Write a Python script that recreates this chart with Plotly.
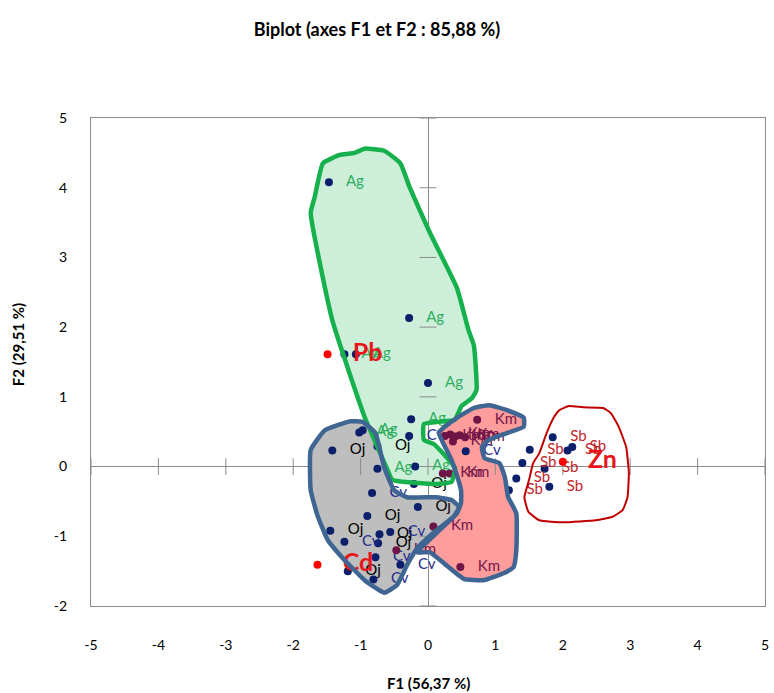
import plotly.graph_objects as go

# ---------------- data ----------------
ag_x = [-1.47, -0.28, -1.24, -1.07, 0.00, -0.25, -1.02, -0.97, -0.75, -0.19]
ag_y = [4.08, 2.13, 1.61, 1.61, 1.20, 0.68, 0.49, 0.52, -0.03, 0.00]

oj_x = [-1.42, -0.75, -0.90, -1.45, -0.72, -0.74, -0.15, -0.21, -1.19]
oj_y = [0.23, 0.29, -0.71, -0.92, -0.97, -1.10, -0.58, -0.25, -1.50]

cv_x = [-0.83, -1.24, -0.56, -0.78, -0.41, -0.81, -0.28, 0.56]
cv_y = [-0.38, -1.08, -0.94, -1.30, -1.41, -1.62, 0.44, 0.22]

km_x = [0.73, 0.25, 0.33, 0.40, 0.47, 0.55, 0.37, 0.22, 0.32, 0.08, 0.48, -0.47]
km_y = [0.67, 0.44, 0.46, 0.43, 0.45, 0.42, 0.36, -0.10, -0.10, -0.86, -1.44, -1.20]

sb_x = [1.85, 1.51, 1.40, 1.31, 1.20, 2.07, 1.73, 1.80, 2.14]
sb_y = [0.42, 0.24, 0.05, -0.17, -0.34, 0.23, -0.03, -0.29, 0.28]

var_names = ["Pb", "Cd", "Zn"]
var_x = [-1.49, -1.64, 2.00]
var_y = [1.61, -1.41, 0.07]

# hand-drawn group envelopes (data units)
green_x = [-1.56, -1.31, -1.09, -0.94, -0.65, -0.41, -0.27, 0.03, 0.43, 0.60, 0.68, 0.72, 0.65, 0.50,
           0.44, 0.40, -0.06, -0.06, 0.09, 0.40, 0.35, 0.13, -0.53, -0.60, -0.75, -0.94, -1.42, -1.74, -1.68]
green_y = [4.35, 4.47, 4.50, 4.56, 4.53, 4.35, 4.00, 3.35, 2.56, 1.96, 1.74, 1.10, 0.98, 0.87,
           0.75, 0.67, 0.61, 0.38, 0.32, -0.02, -0.22, -0.25, -0.19, -0.05, 0.28, 0.71, 2.10, 3.64, 3.87]

gray_x = [-1.74, -1.53, -1.15, -0.97, -0.78, -0.65, -0.50, -0.31, 0.13, 0.35, 0.46, 0.38, 0.13, -0.16,
          -0.31, -0.46, -0.65, -0.94, -1.24, -1.49, -1.64, -1.74]
gray_y = [0.24, 0.52, 0.65, 0.64, 0.48, -0.01, -0.34, -0.44, -0.44, -0.48, -0.58, -0.72, -0.91, -1.17,
          -1.41, -1.70, -1.81, -1.63, -1.34, -1.05, -0.70, -0.34]

pink_x = [0.16, 0.43, 0.68, 0.91, 1.17, 1.42, 1.42, 1.17, 0.90, 0.80, 0.84, 1.06, 1.14, 1.19, 1.31, 1.31,
          1.27, 1.12, 0.83, 0.53, 0.24, 0.03, -0.16, 0.13, 0.43, 0.49, 0.49, 0.44, 0.35, 0.24]
pink_y = [0.49, 0.70, 0.84, 0.88, 0.81, 0.70, 0.57, 0.48, 0.38, 0.28, 0.12, 0.05, -0.15, -0.44, -0.67, -1.20,
          -1.44, -1.53, -1.63, -1.61, -1.39, -1.23, -1.23, -0.95, -0.67, -0.52, -0.34, -0.16, 0.09, 0.31]

red_x = [1.95, 2.09, 2.30, 2.60, 2.71, 2.83, 2.94, 2.98, 2.96, 2.89, 2.74, 2.49, 2.01, 1.65, 1.49, 1.43,
         1.50, 1.56, 1.65, 1.76, 1.87]
red_y = [0.81, 0.87, 0.85, 0.84, 0.77, 0.57, 0.28, -0.09, -0.44, -0.62, -0.72, -0.77, -0.80, -0.77, -0.65, -0.44,
         -0.19, 0.05, 0.19, 0.48, 0.71]

x_ticks = [-5, -4, -3, -2, -1, 0, 1, 2, 3, 4, 5]
y_ticks = [-2, -1, 0, 1, 2, 3, 4, 5]

# ---------------- styles ----------------
FONT = "Lato, Roboto, sans-serif"
NAVY = "#0B1F6A"
MAROON = "#6E1446"
AXIS = "#8C8C8C"
PAD = "\u00a0\u00a0\u00a0"


def closed(v):
    return list(v) + [v[0]]


fig = go.Figure()

# fills (below the points)
for xs, ys, fc in [(green_x, green_y, "#CDEFD9"),
                   (gray_x, gray_y, "#BEBEBE"),
                   (pink_x, pink_y, "#FF9C9C")]:
    fig.add_trace(go.Scatter(x=closed(xs), y=closed(ys), mode="lines", fill="toself",
                             fillcolor=fc, line=dict(width=0), hoverinfo="skip",
                             showlegend=False))

# tick marks crossing the zero axes
fig.add_trace(go.Scatter(x=[0] * len(y_ticks), y=y_ticks, mode="markers",
                         marker=dict(symbol="line-ew", size=12, line=dict(width=1, color=AXIS)),
                         hoverinfo="skip", showlegend=False))
fig.add_trace(go.Scatter(x=x_ticks, y=[0] * len(x_ticks), mode="markers",
                         marker=dict(symbol="line-ns", size=12, line=dict(width=1, color=AXIS)),
                         hoverinfo="skip", showlegend=False))

groups = [
    ("Ag", ag_x, ag_y, NAVY, "#2DAE5F"),
    ("Oj", oj_x, oj_y, NAVY, "#000000"),
    ("Cv", cv_x, cv_y, NAVY, "#1E2C8C"),
    ("Km", km_x, km_y, MAROON, "#74184A"),
    ("Sb", sb_x, sb_y, NAVY, "#C3272B"),
]
for name, xs, ys, mc, tc in groups:
    fig.add_trace(go.Scatter(x=xs, y=ys, mode="markers+text", name=name,
                             text=[PAD + name] * len(xs), textposition="middle right",
                             textfont=dict(family=FONT, size=15, color=tc),
                             marker=dict(size=8, color=mc), showlegend=False))

fig.add_trace(go.Scatter(x=var_x, y=var_y, mode="markers+text", name="variables",
                         text=[PAD + "<b>" + v + "</b>" for v in var_names],
                         textposition="middle right",
                         textfont=dict(family=FONT, size=25, color="#E8161B"),
                         marker=dict(size=8, color="#FF0000"), showlegend=False))

# outlines (above everything)
for xs, ys, lc, lw in [(green_x, green_y, "#16B14C", 4.5),
                       (gray_x, gray_y, "#3F6592", 4.5),
                       (pink_x, pink_y, "#3F6592", 4.5),
                       (red_x, red_y, "#C00000", 2)]:
    fig.add_trace(go.Scatter(x=closed(xs), y=closed(ys), mode="lines",
                             line=dict(color=lc, width=lw, shape="spline", smoothing=0.4),
                             hoverinfo="skip", showlegend=False))

fig.update_layout(
    width=774, height=693,
    margin=dict(l=91, r=5, t=118, b=87),
    paper_bgcolor="white", plot_bgcolor="white",
    font=dict(family=FONT, size=14, color="#000000"),
    title=dict(text="<b>Biplot (axes F1 et F2 : 85,88 %)</b>", x=0.487, xanchor="center",
               y=1 - 30 / 693, yanchor="middle", yref="container",
               font=dict(family=FONT, size=18, color="#000000")),
    xaxis=dict(range=[-5, 5], tickvals=x_ticks, ticktext=[str(v) for v in x_ticks],
               showgrid=False, zeroline=True, zerolinecolor=AXIS, zerolinewidth=1,
               showline=True, mirror=True, linecolor=AXIS, linewidth=1, ticks="",
               ticklabelstandoff=26, tickfont=dict(family=FONT, size=14)),
    yaxis=dict(range=[-2, 5], tickvals=y_ticks, ticktext=[str(v) for v in y_ticks],
               showgrid=False, zeroline=True, zerolinecolor=AXIS, zerolinewidth=1,
               showline=True, mirror=True, linecolor=AXIS, linewidth=1, ticks="",
               ticklabelstandoff=20, tickfont=dict(family=FONT, size=14)),
    annotations=[
        dict(text="<b>F1 (56,37 %)</b>", xref="paper", yref="paper", x=0.5, y=-0.158,
             xanchor="center", yanchor="middle", showarrow=False,
             font=dict(family=FONT, size=15)),
        dict(text="<b>F2 (29,51 %)</b>", xref="paper", yref="paper", x=-0.108, y=0.535,
             xanchor="center", yanchor="middle", showarrow=False, textangle=-90,
             font=dict(family=FONT, size=15)),
    ],
)

fig.write_html("out.html", config={"displayModeBar": False},
               post_script="document.body.style.margin='0px';")
